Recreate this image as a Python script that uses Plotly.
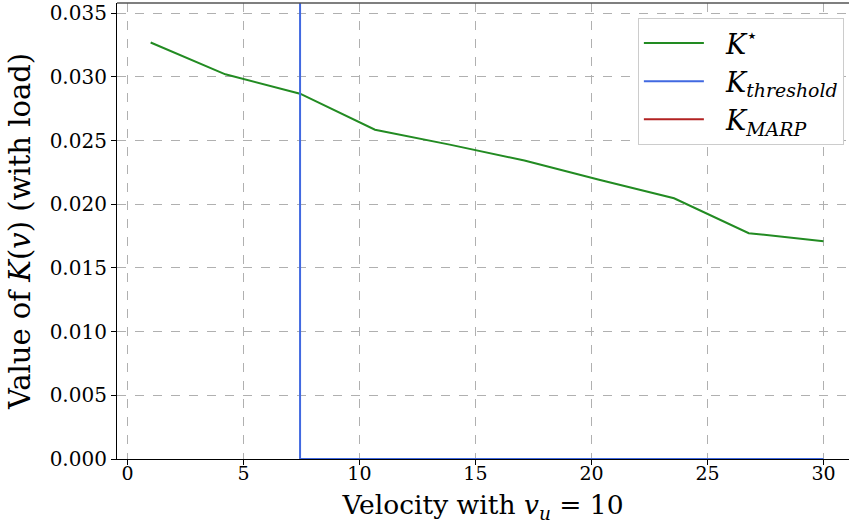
import plotly.graph_objects as go

# Data
velocity = [1.0, 4.22, 7.44, 10.67, 13.89, 17.11, 20.33, 23.56, 26.78, 30.0]
k_star = [0.0327, 0.0302, 0.02868, 0.02585, 0.02468, 0.02343, 0.02193, 0.02047, 0.01773, 0.01710]

threshold_x = [7.44, 7.44, 30.0]
threshold_y = [0.05, 0.0, 0.0]

marp_x = [None]
marp_y = [None]

x_ticks = [0, 5, 10, 15, 20, 25, 30]
y_ticks = [0.000, 0.005, 0.010, 0.015, 0.020, 0.025, 0.030, 0.035]

FONT = "DejaVu Serif"
PAD = "\u00a0\u00a0"

fig = go.Figure()
fig.add_trace(go.Scatter(x=velocity, y=k_star, mode="lines",
                         line=dict(color="#228b22", width=2),
                         name=PAD + "<i>K</i><sup>⋆</sup>"))
fig.add_trace(go.Scatter(x=threshold_x, y=threshold_y, mode="lines",
                         line=dict(color="#4169e1", width=2),
                         name=PAD + "<i>K<sub>threshold</sub></i>"))
fig.add_trace(go.Scatter(x=marp_x, y=marp_y, mode="lines",
                         line=dict(color="#b22222", width=2),
                         name=PAD + "<i>K<sub>MARP</sub></i>"))

grid = dict(showgrid=True, gridcolor="#b0b0b0", griddash="dash", gridwidth=1)

fig.update_layout(
    width=849, height=530,
    margin=dict(l=117, r=0, t=3, b=71),
    paper_bgcolor="white", plot_bgcolor="white",
    font=dict(family=FONT, color="black", size=20),
    xaxis=dict(range=[-0.45, 31.1], tickvals=x_ticks, ticktext=[str(t) for t in x_ticks],
               ticks="outside", ticklen=5, tickcolor="black", showline=True,
               linecolor="black", linewidth=1.2, zeroline=False, ticklabelstandoff=-8,
               title=dict(text="Velocity with <i>v<sub>u</sub></i> = 10", font=dict(size=26.5, family=FONT), standoff=12),
               tickfont=dict(size=19, family=FONT), **grid),
    yaxis=dict(range=[0, 0.0358], tickvals=y_ticks, ticktext=[f"{t:.3f}" for t in y_ticks],
               ticks="outside", ticklen=5, tickcolor="black", showline=True,
               linecolor="black", linewidth=1.2, zeroline=False,
               title=dict(text="Value of <i>K</i>(<i>v</i>) (with load)", font=dict(size=29, family=FONT), standoff=10),
               tickfont=dict(size=20, family=FONT), **grid),
    legend=dict(x=0.993, y=0.967, xanchor="right", yanchor="top",
                bgcolor="white", bordercolor="#cccccc", borderwidth=1,
                font=dict(size=27, family=FONT), tracegroupgap=0, itemwidth=60),
    shapes=[dict(type="line", xref="paper", yref="paper", x0=0, x1=1, y0=1, y1=1,
                 line=dict(color="#555555", width=1.5))],
)

fig.write_html("out.html", config={"displayModeBar": False},
               post_script="document.body.style.margin='0';document.body.style.padding='0';")
